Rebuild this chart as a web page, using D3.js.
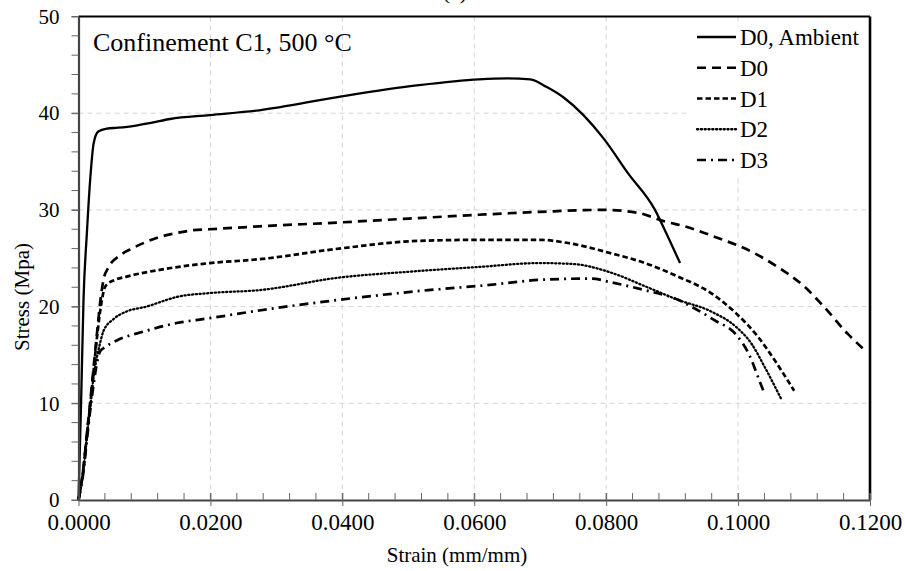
<!DOCTYPE html>
<html>
<head>
<meta charset="utf-8">
<script src="https://cdn.jsdelivr.net/npm/d3@7/dist/d3.min.js"></script>
<style>
  html, body { margin: 0; padding: 0; background: #fff; }
  svg { display: block; font-family: "Liberation Serif", "Times New Roman", serif; }
</style>
</head>
<body>
<svg id="chart" width="905" height="571"></svg>
<script>
// Stress–strain curves, confinement C1 at 500 °C
const strainD0Amb = [0, 0.0004, 0.00076, 0.00127, 0.0018, 0.0023, 0.003, 0.0043, 0.0060, 0.0085, 0.0110, 0.0139, 0.0199, 0.0274, 0.0395, 0.0516, 0.0607, 0.0650, 0.0685, 0.0710, 0.0736, 0.0796, 0.0833, 0.0874, 0.0889, 0.0912];
const stressD0Amb = [0, 10.3, 20.7, 27.6, 33.4, 36.9, 38.1, 38.4, 38.5, 38.7, 39.0, 39.4, 39.8, 40.3, 41.7, 42.9, 43.5, 43.6, 43.5, 42.7, 41.6, 37.4, 33.8, 30.0, 27.9, 24.5];

const strainD0 = [0, 0.00076, 0.00127, 0.0018, 0.0023, 0.0028, 0.0033, 0.0038, 0.0045, 0.0063, 0.0081, 0.0103, 0.0123, 0.0148, 0.0174, 0.0199, 0.0274, 0.0395, 0.0500, 0.0607, 0.0700, 0.0796, 0.0848, 0.0889, 0.0919, 0.0977, 0.0997, 0.1060, 0.1100, 0.1130, 0.1166, 0.1192];
const stressD0 = [0, 3.4, 6.9, 10.3, 13.8, 17.2, 20.5, 22.8, 24.0, 25.3, 26.0, 26.7, 27.2, 27.6, 27.9, 28.0, 28.3, 28.7, 29.1, 29.5, 29.8, 30.0, 29.7, 28.8, 28.3, 26.9, 26.4, 24.1, 22.1, 20.0, 17.2, 15.5];

const strainD1 = [0, 0.00076, 0.00127, 0.0018, 0.0023, 0.0028, 0.0035, 0.0040, 0.0045, 0.0053, 0.0073, 0.0123, 0.0199, 0.0274, 0.0395, 0.0516, 0.0607, 0.0700, 0.0740, 0.0808, 0.0859, 0.0909, 0.0959, 0.0997, 0.1030, 0.1055, 0.1085];
const stressD1 = [0, 3.3, 6.7, 10.0, 13.4, 16.8, 20.5, 22.0, 22.4, 22.7, 23.1, 23.8, 24.5, 24.9, 26.0, 26.8, 26.9, 26.9, 26.6, 25.5, 24.5, 23.1, 21.4, 19.3, 16.9, 14.5, 11.3];

const strainD2 = [0, 0.00076, 0.00127, 0.0018, 0.0023, 0.0028, 0.0033, 0.0038, 0.0053, 0.0073, 0.0103, 0.0134, 0.0149, 0.0199, 0.0274, 0.0395, 0.0500, 0.0607, 0.0700, 0.0750, 0.0808, 0.0859, 0.0909, 0.0959, 0.0997, 0.1020, 0.1040, 0.1065];
const stressD2 = [0, 3.2, 6.5, 9.8, 12.8, 14.8, 16.3, 17.5, 18.7, 19.5, 20.0, 20.7, 21.0, 21.4, 21.7, 23.0, 23.6, 24.1, 24.5, 24.4, 23.5, 22.1, 20.7, 19.5, 17.9, 16.2, 13.8, 10.5];

const strainD3 = [0, 0.00076, 0.00127, 0.0018, 0.0023, 0.0028, 0.0033, 0.0038, 0.0058, 0.0098, 0.0149, 0.0199, 0.0274, 0.0395, 0.0530, 0.0617, 0.0708, 0.0778, 0.0808, 0.0859, 0.0909, 0.0929, 0.0964, 0.0997, 0.1017, 0.1032, 0.1040];
const stressD3 = [0, 3.0, 6.2, 9.4, 12.0, 14.2, 15.4, 15.7, 16.5, 17.4, 18.3, 18.8, 19.6, 20.7, 21.7, 22.2, 22.8, 22.9, 22.5, 21.7, 20.7, 20.0, 18.6, 17.1, 15.0, 12.4, 11.0];

const seriesNames = ["D0, Ambient", "D0", "D1", "D2", "D3"];
const xTickValues = [0, 0.02, 0.04, 0.06, 0.08, 0.10, 0.12];
const yTickValues = [0, 10, 20, 30, 40, 50];

const seriesStrains = [strainD0Amb, strainD0, strainD1, strainD2, strainD3];
const seriesStresses = [stressD0Amb, stressD0, stressD1, stressD2, stressD3];

// line styles per series
const styles = [
  { dash: null, width: 2.3, cap: "butt" },
  { dash: "9,6", width: 2.7, cap: "butt" },
  { dash: "5.5,3", width: 2.7, cap: "butt" },
  { dash: "1.2,2.6", width: 2.3, cap: "round" },
  { dash: "9,5,2,5", width: 2.7, cap: "butt" }
];

const FONT = "Liberation Serif";
const svg = d3.select("#chart");
const m = { left: 78.5, right: 870, top: 16.5, bottom: 500 };

const x = d3.scaleLinear().domain([0, 0.12]).range([m.left, m.right]);
const y = d3.scaleLinear().domain([0, 50]).range([m.bottom, m.top]);

// caption above the frame (mostly clipped at page top)
svg.append("text").attr("x", 455).attr("y", -1).attr("text-anchor", "middle")
  .attr("font-size", 22).attr("fill", "#000").text("(a)");

// grid
const grid = svg.append("g").attr("stroke", "#d4d4d4").attr("stroke-width", 1)
  .attr("stroke-dasharray", "5,4");
grid.selectAll("line.v").data(xTickValues.slice(1, -1)).join("line")
  .attr("x1", d => x(d)).attr("x2", d => x(d)).attr("y1", y(50)).attr("y2", y(0));
grid.selectAll("line.h").data(yTickValues.slice(1, -1)).join("line")
  .attr("class", "h")
  .attr("x1", x(0)).attr("x2", x(0.12)).attr("y1", d => y(d)).attr("y2", d => y(d));

// curves
const line = d3.line().curve(d3.curveMonotoneX);
const curves = svg.append("g").attr("fill", "none").attr("stroke", "#000");
seriesNames.forEach((name, i) => {
  const pts = seriesStrains[i].map((s, k) => [x(s), y(seriesStresses[i][k])]);
  curves.append("path")
    .attr("d", line(pts))
    .attr("stroke-width", styles[i].width)
    .attr("stroke-linecap", styles[i].cap)
    .attr("stroke-dasharray", styles[i].dash);
});

// frame: top and right
svg.append("line").attr("x1", x(0)).attr("x2", x(0.12)).attr("y1", y(50)).attr("y2", y(50))
  .attr("stroke", "#000").attr("stroke-width", 2);
svg.append("line").attr("x1", x(0.12)).attr("x2", x(0.12)).attr("y1", y(50)).attr("y2", y(0))
  .attr("stroke", "#000").attr("stroke-width", 2.6);

// x axis
const xMinor = d3.range(0, 0.12 + 1e-9, 0.004);
const xAxis = svg.append("g").attr("transform", `translate(0,${y(0)})`)
  .attr("font-family", FONT)
  .call(d3.axisBottom(x).tickValues(xTickValues).tickFormat(d3.format(".4f")).tickSizeInner(-7).tickSizeOuter(0).tickPadding(14));
xAxis.attr("font-family", FONT);
xAxis.select(".domain").attr("stroke", "#444").attr("stroke-width", 2.2);
xAxis.selectAll(".tick line").attr("stroke", "#666").attr("y1", 6).attr("y2", -7);
xAxis.selectAll(".tick text").attr("font-size", 23).attr("font-family", FONT).attr("fill", "#000");
svg.append("g").selectAll("line").data(xMinor).join("line")
  .attr("x1", d => x(d)).attr("x2", d => x(d)).attr("y1", y(0)).attr("y2", y(0) - 7)
  .attr("stroke", "#666").attr("stroke-width", 1);

// y axis
const yMinor = d3.range(0, 50.001, 2);
const yAxis = svg.append("g").attr("transform", `translate(${x(0)},0)`)
  .call(d3.axisLeft(y).tickValues(yTickValues).tickSizeInner(7).tickSizeOuter(0).tickPadding(12));
yAxis.attr("font-family", FONT);
yAxis.select(".domain").attr("stroke", "#444").attr("stroke-width", 2.2);
yAxis.selectAll(".tick line").attr("stroke", "#666");
yAxis.selectAll(".tick text").attr("font-size", 21).attr("font-family", FONT).attr("fill", "#000");
svg.append("g").selectAll("line").data(yMinor).join("line")
  .attr("x1", x(0) - 7).attr("x2", x(0)).attr("y1", d => y(d)).attr("y2", d => y(d))
  .attr("stroke", "#666").attr("stroke-width", 1);

// axis titles
svg.append("text").attr("x", 457).attr("y", 562).attr("text-anchor", "middle")
  .attr("font-size", 21).text("Strain (mm/mm)");
svg.append("text").attr("transform", "translate(29,297) rotate(-90)").attr("text-anchor", "middle")
  .attr("font-size", 21).text("Stress (Mpa)");

// annotation
svg.append("text").attr("x", 93).attr("y", 51).attr("font-size", 26).text("Confinement C1, 500 °C");

// legend
const lg = svg.append("g");
lg.append("rect").attr("x", 688).attr("y", 22).attr("width", 180).attr("height", 156).attr("fill", "#fff");
const rowY = d3.scaleLinear().domain([0, 4]).range([37, 160]);
seriesNames.forEach((name, i) => {
  const yy = rowY(i);
  lg.append("line").attr("x1", 697).attr("x2", 736).attr("y1", yy).attr("y2", yy)
    .attr("stroke", "#000").attr("stroke-width", styles[i].width)
    .attr("stroke-linecap", styles[i].cap).attr("stroke-dasharray", styles[i].dash);
  lg.append("text").attr("x", 740).attr("y", yy).attr("dy", "0.35em")
    .attr("font-size", 23).text(name);
});
</script>
</body>
</html>
